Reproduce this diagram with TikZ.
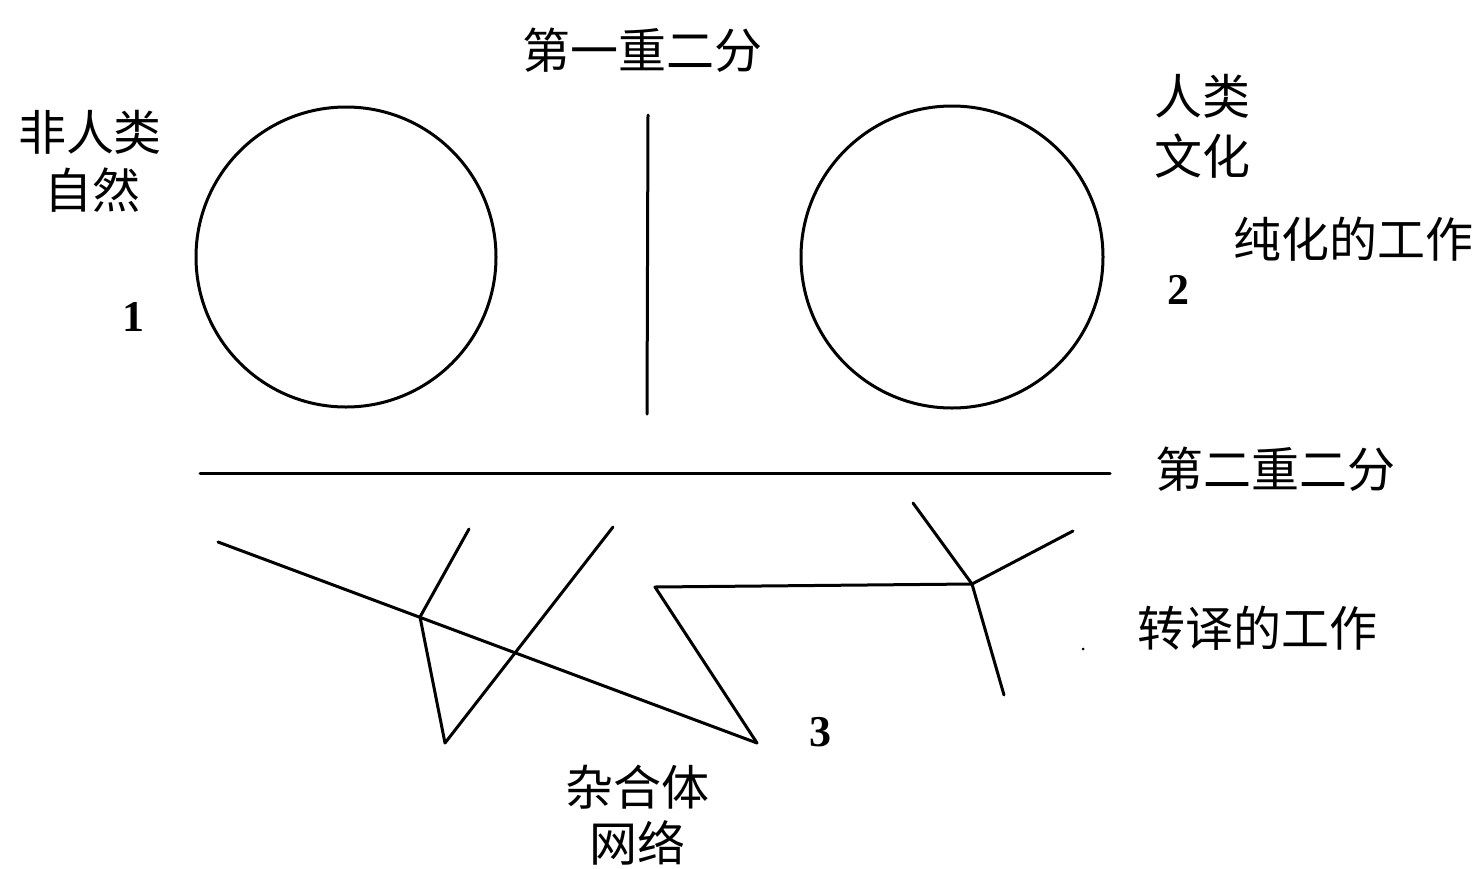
\documentclass[tikz,border=0pt]{standalone}
\usepackage{fontspec}
\newfontfamily\cjk{Noto Sans CJK SC}
\newfontfamily\numfont{Liberation Serif}
\begin{document}
\begin{tikzpicture}[x=1pt,y=-1pt,
  lbl/.style={font=\cjk\fontsize{48}{56}\selectfont, inner sep=0pt, anchor=center},
  num/.style={font=\numfont\bfseries\fontsize{44}{50}\selectfont, inner sep=0pt, anchor=center},
  ln/.style={line width=3pt, line join=round, line cap=round},
  ring/.style={circle, draw, line width=3pt, inner sep=0pt}]
\useasboundingbox (0,0) rectangle (1476,868);
% circles
\node[ring, minimum size=300pt] (c1) at (346,257) {};
\node[ring, minimum size=302pt] (c2) at (952,257) {};
% labels
\node[lbl] (t1) at (642,50) {第一重二分};
\node[lbl] (t2a) at (90,132) {非人类};
\node[lbl] (t2b) at (92,190) {自然};
\node[num] (n1) at (133,317) {1};
\node[lbl] (t3a) at (1202,96) {人类};
\node[lbl] (t3b) at (1202,156) {文化};
\node[lbl] (t4) at (1353,239) {纯化的工作};
\node[num] (n2) at (1178,290) {2};
\node[lbl] (t5) at (1275,469) {第二重二分};
\node[lbl] (t6) at (1257,628) {转译的工作};
\node[num] (n3) at (820,732) {3};
\node[lbl] (t7a) at (637,787) {杂合体};
\node[lbl] (t7b) at (637,843) {网络};
% first dichotomy
\coordinate (v1) at (648,115);
\coordinate (v2) at (647,414);
\draw[ln] (v1) -- (v2);
% second dichotomy
\coordinate (h1) at (200,473);
\coordinate (h2) at (1110,473);
\draw[ln] (h1) -- (h2);
% network
\coordinate (a) at (218,542);
\coordinate (b) at (757,743);
\coordinate (p1) at (469,529);
\coordinate (p2) at (420,617);
\coordinate (p3) at (445,743);
\coordinate (p4) at (613,527);
\coordinate (z1) at (655,587);
\coordinate (j) at (972,584);
\coordinate (q1) at (913,503);
\coordinate (q2) at (1073,531);
\coordinate (q3) at (1004,695);
\draw[ln] (a) -- (b);
\draw[ln] (p1) -- (p2) -- (p3) -- (p4);
\draw[ln] (b) -- (z1) -- (j);
\draw[ln] (q1) -- (j) -- (q2);
\draw[ln] (j) -- (q3);
\fill (1083,649) circle (1.5pt);
\end{tikzpicture}
\end{document}
